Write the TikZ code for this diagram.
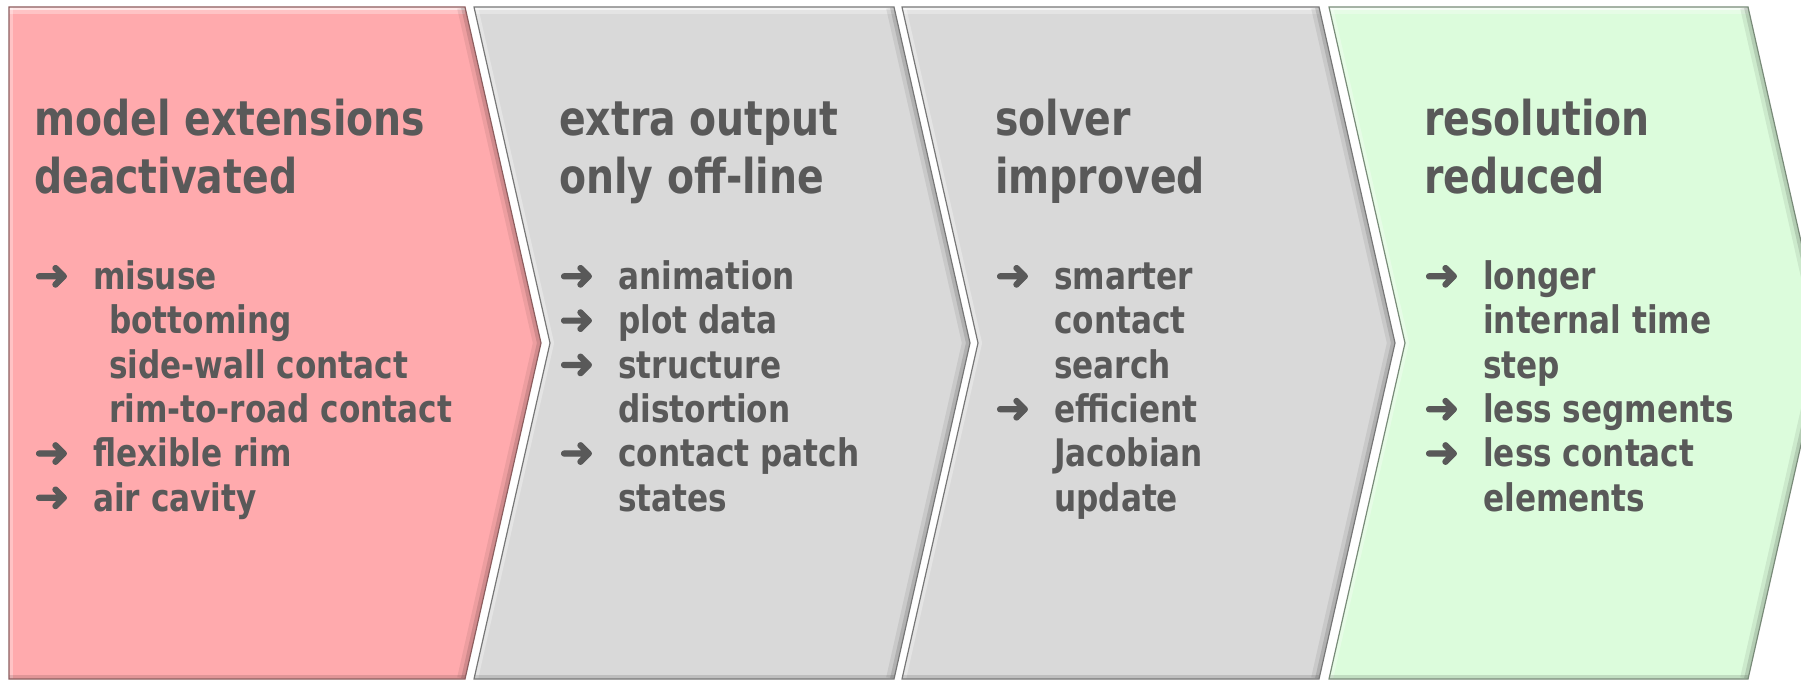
\documentclass[tikz,border=0pt]{standalone}
\usepackage{fontspec}
\setmainfont{DejaVu Sans}[FakeStretch=0.82]
\newfontfamily\arrowfont{DejaVu Sans}[FakeBold=2.5]
\definecolor{pinkfill}{HTML}{FFAAAD}
\definecolor{grayfill}{HTML}{D9D9D9}
\definecolor{greenfill}{HTML}{DCFCDC}
\definecolor{textgray}{HTML}{595959}

% outline of one chevron: #1 left x, #2 right x, #3 depth of the notch
\newcommand{\chevpath}[3]{(#1,7) -- (#2,7) -- ({#2+76},343) -- (#2,679)
  -- (#1,679) -- ({#1+#3},343) -- cycle}
% filled chevron with a rough bevel
\newcommand{\chevron}[4]{%
  \begin{scope}
    \clip \chevpath{#1}{#2}{#3};
    \fill[#4] \chevpath{#1}{#2}{#3};
    \draw[white, opacity=.3, line width=14pt] (#1,7) -- (#2,7);
    \draw[white, opacity=.6, line width=7pt] (#1,7) -- (#2,7);
    \draw[white, opacity=.3, line width=8pt] (#1,7) -- ({#1+#3},343) -- (#1,679);
    \draw[black, opacity=.07, line width=16pt] (#2,7) -- ({#2+76},343) -- (#2,679);
    \draw[black, opacity=.12, line width=8pt] (#2,7) -- ({#2+76},343) -- (#2,679);
    \draw[black, opacity=.12, line width=8pt] (#1,679) -- (#2,679);
  \end{scope}
  \draw[#4!55!black, line width=1.2pt] \chevpath{#1}{#2}{#3};
}
\newcommand{\itm}[1]{\makebox[59pt][l]{\arrowfont\fontsize{42}{44}\selectfont ➜}#1}
\newcommand{\cnt}[1]{\hspace*{59pt}#1}

\begin{document}
\begin{tikzpicture}[x=1pt, y=-1pt,
    title/.style={anchor=base west, inner sep=0, align=left, text=textgray,
      font=\bfseries\fontsize{48}{58}\selectfont},
    items/.style={anchor=base west, inner sep=0, align=left, text=textgray,
      font=\bfseries\fontsize{38}{44.3}\selectfont}]
  \useasboundingbox (0,0) rectangle (1801,685);
  \clip (0,0) rectangle (1801,685);

  \chevron{9}{465}{0}{pinkfill}
  \foreach \l/\r/\c in {474/894/grayfill, 902/1319/grayfill, 1329/1748/greenfill}
    \chevron{\l}{\r}{76}{\c};

  % headings
  \node[title] (head1) at (34,193)   {model extensions\\deactivated};
  \node[title] (head2) at (559,193)  {extra output\\only off-line};
  \node[title] (head3) at (995,193)  {solver\\improved};
  \node[title] (head4) at (1424,193) {resolution\\reduced};

  % lists
  \node[items] (list1) at (34,511) {\itm{misuse}\\
    \hspace*{75pt}bottoming\\ \hspace*{75pt}side-wall contact\\
    \hspace*{75pt}rim-to-road contact\\ \itm{flexible rim}\\ \itm{air cavity}};
  \node[items] (list2) at (559,511) {\itm{animation}\\ \itm{plot data}\\
    \itm{structure}\\ \cnt{distortion}\\ \itm{contact patch}\\ \cnt{states}};
  \node[items] (list3) at (995,511) {\itm{smarter}\\ \cnt{contact}\\
    \cnt{search}\\ \itm{efficient}\\ \cnt{Jacobian}\\ \cnt{update}};
  \node[items] (list4) at (1424,511) {\itm{longer}\\ \cnt{internal time}\\
    \cnt{step}\\ \itm{less segments}\\ \itm{less contact}\\ \cnt{elements}};
\end{tikzpicture}
\end{document}
